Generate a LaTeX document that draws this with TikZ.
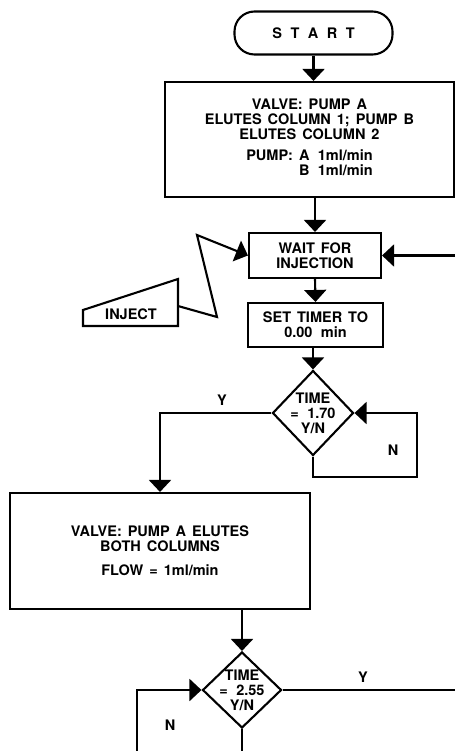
\documentclass[tikz,border=0pt]{standalone}
\usepackage{fontspec}
\setmainfont{TeX Gyre Heros}
\usetikzlibrary{arrows.meta,shapes.geometric}
\newcommand{\flowfont}{\bfseries\fontsize{14.5}{15}\selectfont\spaceskip 6pt plus 1pt\relax}
\newcommand{\gap}{\hspace{8.5pt}}
\tikzset{
  term/.style ={draw,rounded corners=20pt,minimum width=158pt,minimum height=43pt,
                inner sep=0pt},
  proc/.style ={draw,align=center,inner sep=0pt},
  dec/.style  ={draw,diamond,inner sep=0pt},
  yn/.style   ={inner sep=0pt},
  ar/.style   ={-{Triangle[length=12pt,width=22pt]}},
}
\begin{document}
\begin{tikzpicture}[x=1pt,y=-1pt,line width=2.1pt,font=\flowfont]
\useasboundingbox (0,0) rectangle (455,751);
% start and valve set-up
\node[term] (start) at (313.5,33) {S\gap T\gap A\gap R\gap T};
\node[proc,minimum width=289pt,minimum height=115pt] (setup) at (309.5,139.5)
  {VALVE: PUMP A\\ ELUTES COLUMN 1; PUMP B\\ ELUTES COLUMN 2\\[9pt]
   \begin{tabular}{@{}r@{}}PUMP: A\, 1ml/min\\ B\, 1ml/min\end{tabular}};
% injection
\node[proc,minimum width=132pt,minimum height=45pt] (wait) at (315,255.5) {WAIT FOR\\ INJECTION};
\node[yn] (inject) at (131,314) {INJECT};
\draw (83,310) -- (178,279) -- (178,326) -- (83,326) -- cycle;
\coordinate (injout) at (178,306);
\coordinate (loopin) at (455,255.5);
\node[proc,minimum width=135pt,minimum height=44pt] (timer) at (315.5,325) {SET TIMER TO\\ 0.00\, min};
% first test
\node[dec,minimum width=81pt,minimum height=85pt,
  label={[align=center,yn]center:TIME\\ =\, 1.70\\ Y/N}] (t1) at (313,413) {};
\coordinate (n1) at (417,477);
\node[yn] (y1lab) at (222,400) {Y};
\node[yn] (n1lab) at (393,450) {N};
% both columns
\node[proc,minimum width=300pt,minimum height=116pt] (both) at (160,551)
  {VALVE: PUMP A ELUTES\\ BOTH COLUMNS\\[9pt] FLOW = 1ml/min};
% second test
\node[dec,minimum width=79pt,minimum height=76pt,
  label={[align=center,yn]center:TIME\\ =\, 2.55\\ Y/N}] (t2) at (242,690) {};
\coordinate (yout) at (455,690);
\coordinate (nin) at (137,751);
\coordinate (down2) at (242,751);
\node[yn] (y2lab) at (363,677) {Y};
\node[yn] (n2lab) at (170,725) {N};
% edges
\draw[ar] (start.south) -- (start.south |- setup.north);
\draw[ar] (wait.north |- setup.south) -- (wait.north);
\draw[ar] (loopin) -- (wait.east);
\draw[ar] (injout) -- (217,317) -- (197,235) -- (wait.west);
\draw[ar] (wait.south) -- (timer.north);
\draw[ar] (t1.north |- timer.south) -- (t1.north);
\draw[ar] (t1.south) |- (n1) |- (t1.east);
\draw[ar] (t1.west) -| (both.north);
\draw[ar] (t2.north |- both.south) -- (t2.north);
\draw (t2.east) -- (yout);
\draw[ar] (nin) |- (t2.west);
\draw (t2.south) -- (down2);
\end{tikzpicture}
\end{document}
